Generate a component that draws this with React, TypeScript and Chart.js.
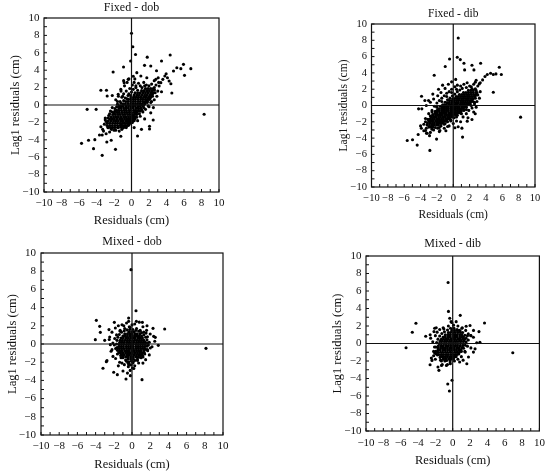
import React, { useEffect, useRef } from 'react';
import { Chart, registerables } from 'chart.js';

Chart.register(...registerables);

type Pt = [number, number];
type Row = [number, number[]];

const axisMin = -10;
const axisMax = 10;
const majorStep = 2;
const xAxisLabel = 'Residuals (cm)';
const yAxisLabel = 'Lag1 residuals (cm)';
const panelTitles = ['Fixed - dob', 'Fixed - dib', 'Mixed - dob', 'Mixed - dib'];

// ---------- Fixed - dob ----------
const fixedDobCore: Row[] = [
  [-2.6, [-2.65, -2.4, -2.15]],
  [-2.35, [-2.8, -2.5, -2.2, -1.9, -1.6, -1.3, -1.0, -0.7, -0.4]],
  [-2.1, [-2.75, -2.45, -2.15, -1.85, -1.6, -1.3, -1.05, -0.8, -0.5, -0.2]],
  [-1.85, [-2.65, -2.35, -2.05, -1.8, -1.5, -1.2, -0.95, -0.65, -0.4, -0.15, 0.1]],
  [-1.6, [-2.5, -2.2, -1.95, -1.65, -1.35, -1.1, -0.8, -0.55, -0.3, -0.05, 0.2]],
  [-1.35, [-2.35, -2.05, -1.75, -1.5, -1.2, -0.9, -0.65, -0.35, -0.1, 0.15, 0.4]],
  [-1.1, [-2.15, -1.85, -1.55, -1.3, -1.0, -0.75, -0.45, -0.2, 0.1, 0.35]],
  [-0.85, [-1.95, -1.65, -1.4, -1.1, -0.8, -0.55, -0.25, 0, 0.3, 0.6]],
  [-0.6, [-1.7, -1.45, -1.15, -0.85, -0.6, -0.3, -0.05, 0.25, 0.5, 0.8]],
  [-0.35, [-1.45, -1.2, -0.9, -0.6, -0.35, -0.05, 0.2, 0.5, 0.75, 1.05]],
  [-0.1, [-1.2, -0.95, -0.65, -0.35, -0.1, 0.2, 0.45, 0.75, 1.0, 1.3]],
  [0.15, [-0.95, -0.7, -0.4, -0.1, 0.15, 0.45, 0.7, 1.0, 1.25, 1.55]],
  [0.4, [-0.65, -0.4, -0.1, 0.2, 0.45, 0.75, 1.0, 1.3, 1.55, 1.8]],
  [0.65, [-0.35, -0.1, 0.2, 0.45, 0.75, 1.05, 1.3, 1.6, 1.85, 2.05]],
  [0.9, [-0.05, 0.25, 0.55, 0.8, 1.1, 1.4, 1.65, 1.95, 2.2]],
  [1.15, [0.3, 0.6, 0.9, 1.2, 1.5, 1.8, 2.1, 2.35]],
  [1.4, [0.7, 1.0, 1.3, 1.6, 1.9, 2.2, 2.5]],
  [1.65, [1.15, 1.45, 1.75, 2.05, 2.35]],
  [1.9, [1.6, 1.9, 2.2, 2.5]],
];
const fixedDobEdge: Pt[] = [
  [-3.0, -1.7], [-2.7, -1.5], [-2.5, -1.0], [-2.2, -0.8], [-1.9, -0.7], [-1.7, -0.2], [-1.4, -0.1], [-1.2, 0.2],
  [-0.9, 0.5], [-0.7, 0.8], [-0.5, 0.7], [-0.3, 1.3], [0.0, 1.5], [0.2, 1.8], [0.5, 2.0], [0.7, 1.7], [1.2, 2.0],
  [1.5, 2.2], [2.0, 2.2], [2.6, 2.0], [-1.6, 0.4], [-1.0, 1.0], [-0.1, 1.1], [0.4, 1.4],
  [-2.3, -2.8], [-1.9, -2.6], [-1.5, -2.6], [-1.2, -2.55], [-0.9, -2.6], [-0.6, -2.4], [-0.3, -2.2], [0.0, -2.0],
  [0.3, -1.8], [0.6, -1.4], [0.9, -1.0], [1.2, -0.6], [1.5, 0.3], [1.8, 0.5], [2.1, 0.9], [2.4, 1.3], [2.6, 1.7],
  [-1.8, -2.9], [-1.1, -2.8], [-0.4, -2.0], [0.25, -1.5], [0.6, -1.1], [1.0, -0.7], [1.4, -0.3], [1.9, -0.1],
  [2.2, 0.3], [0.8, -0.4], [1.2, 0.0], [0.5, -0.8],
];
const fixedDobSpread: Pt[] = [
  [-2.6, -1.2], [-2.9, -1.9], [-3.1, -2.2], [-2.4, -0.7], [-1.9, -0.4], [-1.6, 0.1], [-1.3, 0.4], [-1.1, 0.9],
  [-0.9, 1.3], [-0.6, 1.6], [-0.4, 1.1], [-0.2, 1.9], [0.1, 2.3], [0.3, 2.6], [0.5, 2.2], [0.8, 2.5], [1.0, 2.2],
  [-2.2, -0.3], [-1.8, 0.6], [-1.5, 1.0], [-1.2, 1.6], [-0.8, 2.2], [-0.5, 2.6], [-0.3, 3.0], [0.2, 3.3],
  [-1.0, -0.1], [-2.0, -1.0], [-3.0, -1.5], [-3.3, -2.8], [-2.2, 1.1], [-0.9, 2.8], [1.4, 2.6], [1.7, 2.3],
  [2.3, 2.4], [2.8, 2.3], [3.1, 2.6], [2.6, 2.8],
  [-2.0, -2.9], [-1.6, -2.6], [-1.2, -2.3], [-0.8, -2.1], [-0.5, -1.8], [-0.1, -1.6], [0.2, -1.3], [0.5, -1.0],
  [0.8, -0.7], [1.1, -0.4], [1.4, 0.0], [1.8, 0.3], [2.1, 0.7], [2.4, 1.0], [2.7, 1.4], [-1.4, -3.0], [-0.9, -2.5],
  [-0.3, -2.3], [0.1, -2.0], [0.4, -1.6], [0.7, -1.8], [1.0, -1.3], [1.3, -0.8], [1.6, -0.5], [2.0, -0.2],
  [2.3, 0.4], [2.6, 0.6], [2.9, 1.0], [3.0, 1.6], [-0.6, -2.6], [0.3, -2.6], [1.5, -1.6], [2.2, -0.9], [2.5, -0.3],
  [-3.2, -3.0], [-2.9, -3.3], [-2.5, -3.1], [-3.5, -2.5], [-2.7, -2.6],
];
const fixedDobOutliers: Pt[] = [
  [0, 8.24], [0.15, 6.7], [0.46, 5.8], [-0.1, 5.05], [1.8, 5.5], [3.43, 5.06], [4.42, 5.75], [-0.91, 4.37],
  [-2.1, 3.8], [1.49, 4.56], [2.2, 4.48], [0.38, 3.0], [5.18, 4.29], [5.94, 4.67], [6.78, 4.18], [5.64, 4.18],
  [6.06, 3.41], [4.8, 3.9], [4.61, 1.38], [8.3, -1.07], [-5.07, -0.5], [-4.04, -0.5], [-3.5, 1.69], [-2.86, 1.69],
  [-2.78, 1.03], [-5.71, -4.41], [-4.91, -4.06], [-4.34, -5.02], [-4.19, -3.98], [-3.66, -3.45], [-3.35, -3.45],
  [-3.35, -5.79], [-2.82, -4.25], [-2.32, -4.06], [-1.83, -5.1], [-1.22, -3.6], [0.69, -3.56], [1.14, -2.8],
  [2.06, -2.76], [2.06, -2.45], [2.48, -1.72],
  [2.78, 2.95], [3.05, 3.14], [3.35, 2.57], [3.58, 2.95], [3.81, 3.33], [3.96, 3.6], [4.11, 3.14], [4.3, 2.76],
  [4.5, 2.45], [3.16, 2.18], [2.59, 1.8], [3.43, 1.53], [1.75, 3.14], [1.07, 3.33], [0.61, 3.72], [-0.38, 2.95],
  [-0.84, 2.57], [-1.22, 1.8], [-1.52, 1.23], [2.86, 3.94],
];

// ---------- Fixed - dib ----------
const fixedDibCore: Row[] = [
  [-2.65, [-3.0, -2.75, -2.5]],
  [-2.4, [-3.2, -2.9, -2.6, -2.35, -2.05, -1.8]],
  [-2.15, [-3.15, -2.85, -2.55, -2.3, -2.0, -1.75, -1.45, -1.25]],
  [-1.9, [-3.0, -2.7, -2.45, -2.15, -1.9, -1.6, -1.35, -1.05, -0.8]],
  [-1.65, [-2.85, -2.55, -2.3, -2.0, -1.75, -1.45, -1.2, -0.9, -0.65, -0.4]],
  [-1.4, [-2.65, -2.35, -2.1, -1.8, -1.55, -1.25, -1.0, -0.7, -0.45, -0.2, 0.0]],
  [-1.15, [-2.45, -2.15, -1.9, -1.6, -1.35, -1.05, -0.8, -0.5, -0.25, 0.05, 0.35]],
  [-0.9, [-2.2, -1.95, -1.65, -1.4, -1.1, -0.85, -0.55, -0.3, 0.0, 0.25, 0.5, 0.7]],
  [-0.65, [-1.95, -1.7, -1.4, -1.15, -0.85, -0.6, -0.3, -0.05, 0.25, 0.5, 0.75, 1.0]],
  [-0.4, [-1.7, -1.4, -1.15, -0.85, -0.6, -0.3, -0.05, 0.2, 0.5, 0.75, 1.0, 1.25]],
  [-0.15, [-1.4, -1.15, -0.85, -0.6, -0.3, -0.05, 0.25, 0.5, 0.75, 1.05, 1.3, 1.55]],
  [0.1, [-1.1, -0.85, -0.55, -0.3, 0.0, 0.25, 0.5, 0.8, 1.05, 1.3, 1.6, 1.8]],
  [0.35, [-0.75, -0.5, -0.2, 0.05, 0.35, 0.6, 0.9, 1.15, 1.4, 1.7, 1.95, 2.1]],
  [0.6, [-0.45, -0.15, 0.1, 0.4, 0.65, 0.95, 1.2, 1.5, 1.75, 2.0, 2.25]],
  [0.85, [-0.05, 0.2, 0.5, 0.75, 1.05, 1.3, 1.6, 1.85, 2.15, 2.4]],
  [1.1, [0.35, 0.6, 0.9, 1.2, 1.45, 1.75, 2.0, 2.3, 2.6]],
  [1.35, [0.75, 1.05, 1.35, 1.65, 1.9, 2.2, 2.5, 2.75]],
  [1.6, [1.25, 1.55, 1.85, 2.15, 2.45, 2.8]],
  [1.85, [1.85, 2.15, 2.45, 2.8]],
  [2.05, [2.3, 2.7]],
];
const fixedDibEdge: Pt[] = [
  [-3.4, -2.0], [-3.1, -1.7], [-2.8, -1.3], [-2.5, -1.1], [-2.2, -0.7], [-1.9, -0.5], [-1.6, -0.1], [-1.3, 0.1],
  [-1.0, 0.4], [-0.7, 0.7], [-0.4, 0.9], [-0.1, 1.2], [0.2, 1.4], [0.5, 1.7], [0.8, 1.9], [1.1, 2.1], [1.6, 2.2],
  [2.2, 2.3], [-2.0, -0.2], [-1.4, 0.5], [-0.8, 1.1], [-0.2, 1.6], [0.4, 2.0], [-2.6, -0.8],
  [-2.6, -2.9], [-2.2, -2.7], [-1.9, -2.4], [-1.5, -2.2], [-1.2, -1.9], [-0.8, -1.7], [-0.5, -1.5], [-0.1, -1.2],
  [0.2, -1.0], [0.6, -0.8], [0.9, -0.6], [1.2, -0.3], [1.5, -0.1], [1.8, 0.2], [2.1, 0.5], [2.4, 0.8], [2.7, 1.2],
  [2.9, 1.6], [-1.7, -2.7], [-1.0, -2.2], [-0.3, -1.9], [0.4, -1.4], [1.0, -1.0], [1.6, -0.5], [2.2, 0.0], [2.6, 0.4],
];
const fixedDibSpread: Pt[] = [
  [-3.4, -1.6], [-3.6, -2.3], [-3.0, -1.0], [-2.6, -0.6], [-2.3, -0.1], [-2.0, 0.3], [-1.7, 0.6], [-1.4, 0.9],
  [-1.1, 1.2], [-0.8, 1.5], [-0.5, 1.7], [-0.2, 2.0], [0.2, 2.3], [0.5, 2.5], [0.9, 2.4], [1.3, 2.6], [-2.8, 0.4],
  [-2.4, 0.8], [-1.9, 1.2], [-1.5, 1.6], [-1.0, 2.1], [-0.6, 2.6], [-0.2, 2.9], [0.3, 3.2], [-2.1, -0.8],
  [-2.7, -1.4], [-3.9, -2.8], [-2.5, 1.4], [-1.3, 2.5], [1.7, 2.8], [2.0, 2.4], [2.5, 2.6], [3.0, 2.4], [3.3, 2.8],
  [2.8, 3.1], [-3.3, 0.0], [-1.8, 2.0],
  [-2.4, -3.0], [-1.9, -2.8], [-1.5, -2.5], [-1.1, -2.3], [-0.7, -2.0], [-0.3, -1.8], [0.1, -1.5], [0.5, -1.2],
  [0.9, -0.9], [1.3, -0.6], [1.6, -0.2], [2.0, 0.1], [2.4, 0.5], [2.7, 0.9], [3.0, 1.3], [-1.7, -3.2], [-1.1, -2.8],
  [-0.5, -2.5], [0.0, -2.2], [0.4, -1.9], [0.9, -2.0], [1.2, -1.4], [1.6, -1.0], [1.9, -0.6], [2.3, -0.3],
  [2.6, 0.2], [2.9, 0.5], [3.2, 0.9], [3.3, 1.7], [-0.9, -3.1], [0.6, -2.6], [1.8, -1.5], [2.5, -0.8], [2.8, -0.2],
  [-3.6, -3.1], [-3.2, -3.4], [-2.8, -3.3], [-4.0, -2.5], [-3.3, -2.8], [-2.9, -3.7],
];
const fixedDibOutliers: Pt[] = [
  [0.61, 8.29], [0.49, 5.92], [0.86, 5.63], [1.31, 5.18], [-0.45, 5.71], [-0.98, 4.78], [-2.33, 3.71],
  [2.29, 4.94], [3.35, 5.18], [2.53, 4.37], [1.39, 4.37], [5.63, 4.69], [5.88, 3.8], [5.22, 3.88], [4.9, 3.8],
  [4.57, 3.96], [4.16, 3.8], [3.88, 3.55], [3.59, 3.14], [4.9, 1.63], [3.18, 2.65], [2.69, 2.86], [8.24, -1.43],
  [-4.24, -0.41], [-3.84, -0.41], [-3.88, 1.14], [-3.47, 0.61], [-3.02, 0.61], [-5.63, -4.29], [-4.98, -4.2],
  [-4.41, -4.86], [-4.29, -3.55], [-2.86, -5.51], [-3.27, -3.39], [-2.04, -4.12], [1.14, -3.88], [1.06, -2.78],
  [2.29, -1.71], [2.69, -1.02], [1.71, -1.92], [0.2, -2.73], [-0.69, -2.57], [-1.63, -3.06], [-3.39, -3.06],
];

// ---------- Mixed - dob ----------
const mixedDobCore: Row[] = [
  [-1.65, [-0.45, -0.15, 0.15]],
  [-1.42, [-0.95, -0.65, -0.4, -0.1, 0.15, 0.45, 0.7]],
  [-1.19, [-1.1, -0.85, -0.55, -0.3, -0.05, 0.25, 0.5, 0.75, 1.0]],
  [-0.96, [-1.25, -1.0, -0.7, -0.45, -0.2, 0.05, 0.3, 0.6, 0.85, 1.1]],
  [-0.73, [-1.35, -1.1, -0.8, -0.55, -0.3, 0.0, 0.25, 0.5, 0.75, 1.0, 1.3]],
  [-0.5, [-1.4, -1.15, -0.9, -0.6, -0.35, -0.1, 0.15, 0.45, 0.7, 0.95, 1.2, 1.4]],
  [-0.27, [-1.45, -1.2, -0.95, -0.65, -0.4, -0.15, 0.1, 0.4, 0.65, 0.9, 1.15, 1.4]],
  [-0.04, [-1.4, -1.15, -0.9, -0.6, -0.35, -0.1, 0.15, 0.45, 0.7, 0.95, 1.2, 1.45]],
  [0.19, [-1.35, -1.1, -0.85, -0.55, -0.3, -0.05, 0.2, 0.5, 0.75, 1.0, 1.25, 1.45]],
  [0.42, [-1.3, -1.05, -0.75, -0.5, -0.25, 0.05, 0.3, 0.55, 0.8, 1.05, 1.3]],
  [0.65, [-1.2, -0.95, -0.65, -0.4, -0.15, 0.1, 0.35, 0.65, 0.9, 1.15]],
  [0.88, [-1.0, -0.75, -0.5, -0.2, 0.05, 0.3, 0.55, 0.8, 1.05]],
  [1.11, [-0.8, -0.5, -0.25, 0.0, 0.3, 0.55, 0.85]],
  [1.34, [-0.35, -0.05, 0.25]],
];
const mixedDobEdge: Pt[] = [
  [-1.65, -0.4], [-1.7, 0.0], [-1.65, 0.4], [-1.55, 0.75], [-1.4, 1.05], [-1.15, 1.3], [-0.85, 1.45], [-0.55, 1.55],
  [-0.25, 1.6], [0.1, 1.6], [0.45, 1.5], [0.75, 1.4], [1.05, 1.25], [1.3, 1.0], [1.5, 0.75], [1.65, 0.45],
  [1.7, 0.1], [1.65, -0.25], [1.55, -0.6], [1.35, -0.95], [1.15, -1.25], [0.9, -1.45], [0.6, -1.65], [0.3, -1.8],
  [-0.05, -1.9], [-0.35, -1.95], [-0.7, -1.75], [-1.0, -1.5], [-1.25, -1.25], [-1.45, -0.95], [-1.6, -0.7],
  [-0.3, -2.2], [-0.1, -2.3], [-0.45, -2.05], [0.1, -2.1], [1.55, 1.2], [-1.3, 1.4], [1.8, -0.1],
];
const mixedDobSpread: Pt[] = [
  [-1.9, 0.6], [-1.8, -0.5], [-1.7, 1.0], [-1.6, -1.1], [-1.3, 1.5], [-1.2, -1.5], [-0.8, 1.7], [-0.6, -1.9],
  [-0.2, 1.8], [0.1, -2.0], [0.5, 1.7], [0.6, -1.8], [0.9, 1.5], [1.0, -1.5], [1.3, 1.3], [1.4, -1.1], [1.7, 0.8],
  [1.7, -0.6], [1.9, 0.2], [-2.1, 0.1], [-2.2, 1.3], [-1.5, 2.0], [-0.6, 2.3], [0.3, 2.2], [1.2, 1.9], [2.0, 1.1],
  [2.2, -0.3], [1.9, -1.2], [1.2, -2.1], [0.3, -2.4], [-0.4, -2.5], [-1.1, -2.1], [-1.8, -1.6], [-2.3, -0.8],
  [-0.2, -2.9], [-0.5, -3.2], [0.2, -2.7], [-0.3, 1.9], [0.0, 2.1], [-2.5, 0.5], [2.5, 0.3], [1.6, 1.5],
  [-1.5, -2.4], [0.8, 2.4], [-0.9, 2.0],
];
const mixedDobOutliers: Pt[] = [
  [-3.92, 2.6], [-3.55, 1.94], [-3.48, 1.28], [-4.03, 0.48], [-3.0, 0.4], [-2.53, 1.58], [-2.45, 0.77],
  [-1.94, 2.38], [-1.83, 1.76], [-1.1, 2.12], [-0.37, 2.86], [-0.37, 2.49], [0.44, 3.66], [0.48, 2.49],
  [1.14, 2.38], [1.65, 2.01], [2.31, 1.72], [3.59, 1.65], [2.38, 0.84], [2.56, 0.73], [2.89, -0.15],
  [2.01, -0.44], [1.72, -0.73], [1.21, -1.43], [1.5, -1.72], [0.73, -2.09], [1.1, -3.92], [0.04, -2.64],
  [-0.18, -3.48], [-0.66, -3.85], [-0.99, -2.97], [-1.61, -3.37], [-2.01, -3.11], [-3.19, -2.67], [-2.82, -1.94],
  [-2.75, -1.83], [-2.09, -1.36], [-2.2, -0.62], [-1.94, -0.11], [-2.38, -0.07], [-0.11, 8.17], [8.13, -0.48],
  [-1.36, -2.01], [-0.84, -2.27], [-0.37, -2.27], [-0.04, -1.72],
];

// ---------- Mixed - dib ----------
const mixedDibCore: Row[] = [
  [-1.75, [-1.05, -0.75, -0.45, -0.2]],
  [-1.5, [-1.4, -1.15, -0.85, -0.6, -0.3, -0.05, 0.2]],
  [-1.25, [-1.6, -1.3, -1.05, -0.75, -0.5, -0.2, 0.05, 0.3, 0.5]],
  [-1.0, [-1.7, -1.4, -1.15, -0.85, -0.6, -0.3, -0.05, 0.25, 0.5, 0.75]],
  [-0.75, [-1.7, -1.45, -1.15, -0.9, -0.6, -0.35, -0.05, 0.2, 0.45, 0.75, 0.95]],
  [-0.5, [-1.7, -1.4, -1.15, -0.85, -0.6, -0.3, -0.05, 0.2, 0.5, 0.75, 1.05]],
  [-0.25, [-1.65, -1.35, -1.1, -0.8, -0.55, -0.25, 0.0, 0.3, 0.55, 0.85, 1.15]],
  [0.0, [-1.55, -1.3, -1.0, -0.75, -0.45, -0.2, 0.1, 0.35, 0.6, 0.9, 1.2]],
  [0.25, [-1.45, -1.2, -0.9, -0.65, -0.35, -0.1, 0.2, 0.45, 0.75, 1.0, 1.3]],
  [0.5, [-1.3, -1.05, -0.75, -0.5, -0.2, 0.05, 0.3, 0.6, 0.85, 1.15, 1.35]],
  [0.75, [-1.1, -0.85, -0.55, -0.3, 0.0, 0.25, 0.5, 0.8, 1.05, 1.25]],
  [1.0, [-0.85, -0.55, -0.3, 0.0, 0.25, 0.5, 0.8, 1.05]],
  [1.25, [-0.5, -0.25, 0.05, 0.3, 0.6, 0.9]],
  [1.5, [-0.1, 0.2, 0.5, 0.75]],
];
const mixedDibEdge: Pt[] = [
  [-1.95, -0.9], [-1.95, -0.4], [-1.85, 0.1], [-1.7, 0.5], [-1.5, 0.85], [-1.25, 1.15], [-0.95, 1.35],
  [-0.6, 1.55], [-0.25, 1.75], [0.15, 1.75], [0.5, 1.6], [0.85, 1.45], [1.15, 1.25], [1.4, 0.95], [1.55, 0.6],
  [1.55, 0.2], [1.45, -0.2], [1.25, -0.55], [1.0, -0.9], [0.7, -1.2], [0.4, -1.5], [0.1, -1.75], [-0.3, -1.9],
  [-0.7, -1.95], [-1.1, -1.8], [-1.45, -1.6], [-1.75, -1.3], [-2.05, -1.1], [1.7, 0.9], [-1.3, -2.0],
];
const mixedDibSpread: Pt[] = [
  [-2.0, 0.9], [-2.1, -0.4], [-1.9, -1.2], [-1.8, 1.3], [-1.5, 1.6], [-1.1, 1.8], [-0.5, 2.0], [0.1, 2.1],
  [0.6, 2.0], [1.1, 1.8], [1.5, 1.5], [1.8, 1.1], [1.8, 0.4], [1.7, -0.3], [1.4, -0.9], [1.0, -1.5], [0.6, -1.8],
  [0.2, -2.0], [-0.3, -2.1], [-0.9, -2.0], [-1.4, -1.9], [-2.0, -1.8], [-2.3, 0.2], [-2.2, -0.9], [2.1, 0.9],
  [2.1, -0.5], [1.2, -1.9], [-0.6, -2.4], [-1.9, 1.8], [0.4, 2.5], [-0.1, 2.4], [-2.6, 1.0], [2.4, 1.5],
  [-2.2, -1.4], [-1.2, -2.4],
];
const mixedDibOutliers: Pt[] = [
  [-0.53, 6.97], [-0.49, 3.67], [0.87, 3.22], [-0.19, 2.5], [-0.34, 2.88], [3.67, 2.35], [-4.24, 2.31],
  [-4.66, 1.29], [-5.38, -0.49], [6.93, -1.06], [-0.57, -4.62], [-0.38, -5.42], [-0.08, -4.2], [3.03, 1.36],
  [3.14, 0.15], [2.77, 0.08], [2.39, -0.98], [1.63, -2.31], [0.8, -2.12], [-0.27, -2.31], [-0.72, -2.5],
  [-1.29, -2.5], [-1.59, -3.07], [-1.7, -2.69], [-2.39, -1.93], [-2.46, -1.67], [-2.61, -2.42], [-3.11, 0.83],
  [-2.54, 0.61], [-2.16, 1.36], [-2.08, 1.74], [-1.02, 1.67], [1.06, 1.74], [1.55, 1.97], [2.0, 2.05],
  [2.08, 0.91], [2.39, 0.72], [2.58, -0.61], [1.44, -0.98], [1.82, -1.55],
];

function rowsToPoints(rows: Row[]): Pt[] {
  return rows.flatMap(([y, xs]) => xs.map((x) => [x, y] as Pt));
}

const panelData: Pt[][] = [
  [...rowsToPoints(fixedDobCore), ...fixedDobEdge, ...fixedDobSpread, ...fixedDobOutliers],
  [...rowsToPoints(fixedDibCore), ...fixedDibEdge, ...fixedDibSpread, ...fixedDibOutliers],
  [...rowsToPoints(mixedDobCore), ...mixedDobEdge, ...mixedDobSpread, ...mixedDobOutliers],
  [...rowsToPoints(mixedDibCore), ...mixedDibEdge, ...mixedDibSpread, ...mixedDibOutliers],
];

const PAGE_W = 550;
const PAGE_H = 473;
const FONT = "'Liberation Serif', 'Times New Roman', serif";
const INK = '#111';

// plot rect [left, top, right, bottom] in page pixels, text anchors
const panelLayouts = [
  { plot: [44, 18, 219, 192], titleY: 8, yTitleX: 16, xTitleY: 221, xTickGap: 11.3, yTickGap: 4.5, titleSize: 12, labelSize: 12.5, tickSize: 11 },
  { plot: [371.5, 24, 535, 187], titleY: 14, yTitleX: 344, xTitleY: 215, xTickGap: 11.3, yTickGap: 4.5, titleSize: 11.5, labelSize: 11.5, tickSize: 10.5 },
  { plot: [41, 253, 223, 435], titleY: 241.5, yTitleX: 12.5, xTitleY: 465, xTickGap: 11.3, yTickGap: 5, titleSize: 12, labelSize: 12.5, tickSize: 11 },
  { plot: [366, 256, 542, 431], titleY: 244, yTitleX: 338, xTitleY: 461, xTickGap: 11.7, yTickGap: 4.5, titleSize: 12, labelSize: 12.5, tickSize: 11 },
];

const framePlugin = {
  id: 'frame',
  afterDatasetsDraw(chart: any) {
    const { ctx, chartArea: a, scales } = chart;
    const x = scales.x;
    const y = scales.y;
    ctx.save();
    ctx.strokeStyle = INK;
    ctx.lineWidth = 1.2;
    const x0 = x.getPixelForValue(0);
    const y0 = y.getPixelForValue(0);
    ctx.beginPath();
    ctx.moveTo(x0, a.top);
    ctx.lineTo(x0, a.bottom);
    ctx.moveTo(a.left, y0);
    ctx.lineTo(a.right, y0);
    ctx.stroke();
    ctx.strokeRect(a.left, a.top, a.right - a.left, a.bottom - a.top);
    ctx.lineWidth = 1;
    ctx.beginPath();
    for (let v = axisMin; v <= axisMax; v += 1) {
      const px = x.getPixelForValue(v);
      ctx.moveTo(px, a.bottom);
      ctx.lineTo(px, a.bottom - 3);
      const py = y.getPixelForValue(v);
      ctx.moveTo(a.left, py);
      ctx.lineTo(a.left + 3, py);
    }
    ctx.stroke();
    ctx.restore();
  },
};

const fmtTick = (v: number | string) => String(v).replace('-', '\u2212');

function Panel({ index }: { index: number }) {
  const ref = useRef<HTMLCanvasElement | null>(null);
  useEffect(() => {
    const canvas = ref.current;
    if (!canvas) return;
    const L = panelLayouts[index];
    const [pl, pt, pr, pb] = L.plot;
    const lhTitle = L.titleSize * 1.2;
    const lhLabel = L.labelSize * 1.2;
    const lhTick = L.tickSize * 1.2;
    const padLeft = L.yTitleX - lhLabel / 2;
    const yWidth = pl - padLeft;
    const padBottom = PAGE_H - L.xTitleY - lhLabel / 2;
    const xHeight = PAGE_H - padBottom - pb;
    const padTop = L.titleY - lhTitle / 2;
    const padRight = PAGE_W - pr;

    const chart = new Chart(canvas, {
      type: 'scatter',
      data: {
        datasets: [
          {
            data: panelData[index].map(([x, y]) => ({ x, y })),
            pointRadius: 1.55,
            pointHoverRadius: 1.55,
            pointBackgroundColor: '#000',
            pointBorderWidth: 0,
            showLine: false,
          },
        ],
      },
      options: {
        animation: false,
        responsive: false,
        events: [],
        layout: { padding: { left: padLeft, right: padRight, top: padTop, bottom: padBottom } },
        plugins: {
          legend: { display: false },
          tooltip: { enabled: false },
          title: {
            display: true,
            text: panelTitles[index],
            fullSize: false,
            color: INK,
            font: { family: FONT, size: L.titleSize, weight: 'normal', lineHeight: 1.2 },
            padding: { top: 0, bottom: pt - L.titleY - lhTitle / 2 },
          },
        },
        scales: {
          x: {
            type: 'linear',
            min: axisMin,
            max: axisMax,
            grid: { display: false, drawTicks: false },
            border: { display: false },
            ticks: {
              stepSize: majorStep,
              autoSkip: false,
              maxRotation: 0,
              color: INK,
              padding: L.xTickGap - lhTick / 2,
              font: { family: FONT, size: L.tickSize, lineHeight: 1.2 },
              callback: (v: any) => fmtTick(v),
            },
            title: {
              display: true,
              text: xAxisLabel,
              color: INK,
              padding: 0,
              font: { family: FONT, size: L.labelSize, lineHeight: 1.2 },
            },
            afterFit: (s: any) => {
              s.height = xHeight;
            },
          },
          y: {
            type: 'linear',
            min: axisMin,
            max: axisMax,
            grid: { display: false, drawTicks: false },
            border: { display: false },
            ticks: {
              stepSize: majorStep,
              autoSkip: false,
              color: INK,
              padding: L.yTickGap,
              font: { family: FONT, size: L.tickSize, lineHeight: 1.2 },
              callback: (v: any) => fmtTick(v),
            },
            title: {
              display: true,
              text: yAxisLabel,
              color: INK,
              padding: 0,
              font: { family: FONT, size: L.labelSize, lineHeight: 1.2 },
            },
            afterFit: (s: any) => {
              s.width = yWidth;
            },
          },
        },
      },
      plugins: [framePlugin],
    } as any);
    return () => chart.destroy();
  }, [index]);
  return (
    <canvas
      ref={ref}
      width={PAGE_W}
      height={PAGE_H}
      style={{ position: 'absolute', left: 0, top: 0, width: PAGE_W, height: PAGE_H }}
    />
  );
}

export default function App() {
  return (
    <div style={{ position: 'absolute', left: 0, top: 0, width: PAGE_W, height: PAGE_H, background: '#fff' }}>
      {panelTitles.map((_, i) => (
        <Panel key={i} index={i} />
      ))}
    </div>
  );
}
